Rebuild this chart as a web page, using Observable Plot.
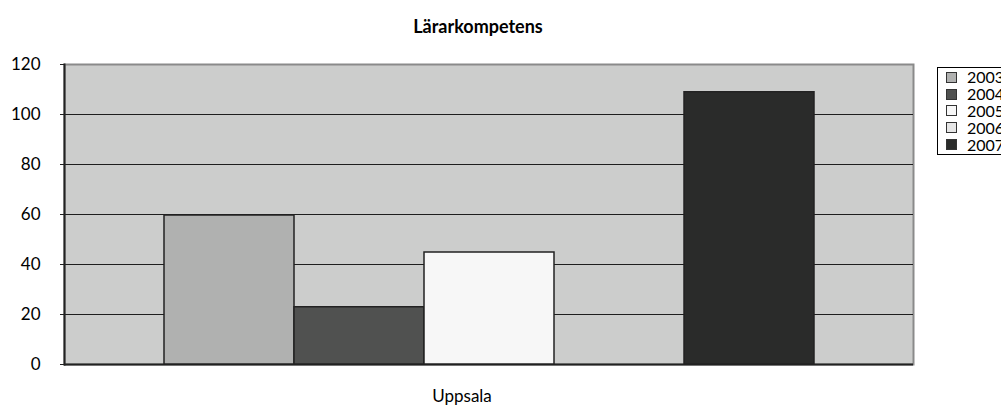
<!DOCTYPE html>
<html>
<head>
<meta charset="utf-8">
<script src="https://cdn.jsdelivr.net/npm/d3@7"></script>
<script src="https://cdn.jsdelivr.net/npm/@observablehq/plot@0.6"></script>
<style>
  html, body { margin: 0; padding: 0; background: #fff; }
  #wrap { position: relative; width: 1001px; height: 412px; overflow: hidden; font-family: Lato, "Open Sans", sans-serif; }
  #title { position: absolute; left: 0; top: 15px; width: 956px; text-align: center; font-weight: bold; font-size: 18px; color: #000; }
  #legend { position: absolute; left: 937px; top: 67px; width: 100px; border: 1px solid #000; background: #fff; padding: 1px 0 1px 0; }
  .item { height: 16.8px; line-height: 16px; display: flex; align-items: center; font-size: 16px; color: #000; }
  .sw { width: 9px; height: 9px; border: 1px solid #333; margin: 0 10px 0 8px; flex: none; }
</style>
</head>
<body>
<div id="wrap">
  <div id="title"></div>
  <div id="chart"></div>
  <div id="legend"></div>
</div>
<script>
const title = "Lärarkompetens";
const category = "Uppsala";
const years = ["2003", "2004", "2005", "2006", "2007"];
const values = [59.6, 22.9, 44.8, 0, 108.9];
const colors = ["#b0b1b0", "#505150", "#f7f7f7", "#e6e6e6", "#2a2b2a"];
const yTicks = [0, 20, 40, 60, 80, 100, 120];

const data = years.map((y, i) => ({year: y, value: values[i], category}));

document.getElementById("title").textContent = title;

const chart = Plot.plot({
  width: 1001,
  height: 412,
  marginTop: 64,
  marginBottom: 48,
  marginLeft: 64,
  marginRight: 88,
  style: {fontFamily: "Lato, 'Open Sans', sans-serif", fontSize: "17px", color: "#000", background: "transparent"},
  x: {domain: years, paddingInner: 0, paddingOuter: 0.75, axis: null},
  y: {domain: [0, 120], axis: null},
  color: {domain: years, range: colors},
  marks: [
    Plot.frame({fill: "#cccdcc", stroke: "#8a8a8a", strokeWidth: 2}),
    Plot.gridY(yTicks.filter(d => d > 0 && d < 120), {stroke: "#1e1e1e", strokeOpacity: 1, strokeWidth: 1}),
    Plot.ruleY([0], {stroke: "#222", strokeWidth: 2}),
    Plot.frame({anchor: "left", stroke: "#222", strokeWidth: 2}),
    Plot.axisY(yTicks, {tickSize: 4, tickPadding: 20, stroke: "#222", fill: "#000", label: null, fontSize: 17}),
    Plot.barY(data, {x: "year", y: "value", fill: "year", stroke: "#222", strokeWidth: 1.5}),
    Plot.text([category], {frameAnchor: "bottom", dx: -27, dy: 37, fill: "#000", fontSize: 17})
  ]
});
document.getElementById("chart").appendChild(chart);

const legend = document.getElementById("legend");
years.forEach((y, i) => {
  const row = document.createElement("div");
  row.className = "item";
  const sw = document.createElement("span");
  sw.className = "sw";
  sw.style.background = colors[i];
  const t = document.createElement("span");
  t.textContent = y;
  row.appendChild(sw);
  row.appendChild(t);
  legend.appendChild(row);
});
</script>
</body>
</html>
